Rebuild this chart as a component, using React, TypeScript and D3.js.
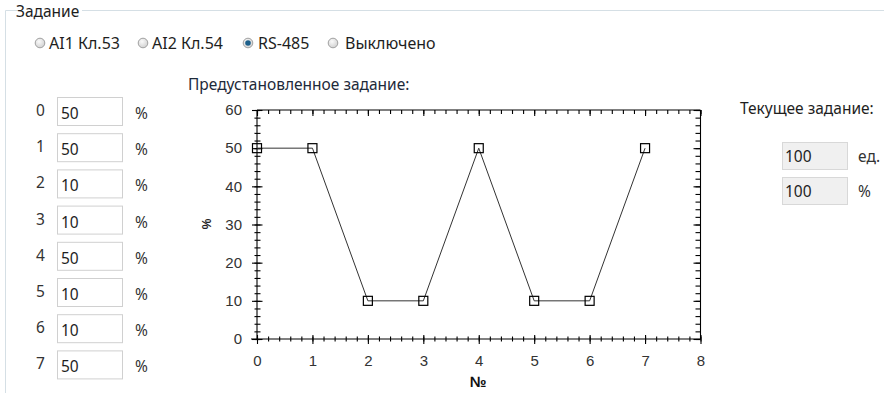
import React, { useEffect, useRef } from "react";
import * as d3 from "d3";

const indices = [0, 1, 2, 3, 4, 5, 6, 7];
const presetValues = [50, 50, 10, 10, 50, 10, 10, 50];
const xTicks = [0, 1, 2, 3, 4, 5, 6, 7, 8];
const yTicks = [0, 10, 20, 30, 40, 50, 60];
const radioLabels = ["AI1 Кл.53", "AI2 Кл.54", "RS-485", "Выключено"];
const radioX = [40, 143, 248, 333];
const radioTextX = [49, 152, 258, 345];
const selectedRadio = 2;
const currentValues = ["100", "100"];
const currentUnits = ["ед.", "%"];

const UI_FONT = "'Noto Sans', 'Open Sans', sans-serif";
const CHART_FONT = "'Liberation Sans', Arial, sans-serif";
const UI_SIZE = 15.5;

export default function App() {
  const ref = useRef<SVGGElement>(null);

  const x = d3.scaleLinear().domain([0, 8]).range([257, 700.5]);
  const y = d3.scaleLinear().domain([0, 60]).range([339, 110]);

  useEffect(() => {
    const g = d3.select(ref.current);
    g.selectAll("*").remove();
    const minorX = d3.range(0, 8.001, 0.2);
    const minorY = d3.range(0, 60.001, 2);

    const bMinor = g.append("g").attr("transform", `translate(0,${y(0)})`)
      .call(d3.axisBottom(x).tickValues(minorX).tickSize(3).tickFormat(() => ""));
    bMinor.selectAll(".tick line").attr("y1", -2.5).attr("y2", 2.5);
    bMinor.select(".domain").remove();
    const bMajor = g.append("g").attr("transform", `translate(0,${y(0)})`)
      .call(d3.axisBottom(x).tickValues(xTicks).tickSize(5).tickPadding(11).tickFormat(d3.format("d")));
    bMajor.selectAll(".tick line").attr("y1", -4).attr("y2", 5);
    bMajor.select(".domain").attr("d", `M${x(0) - 6},0H${x(8)}`);

    const lMinor = g.append("g").attr("transform", `translate(${x(0)},0)`)
      .call(d3.axisLeft(y).tickValues(minorY).tickSize(3).tickFormat(() => ""));
    lMinor.selectAll(".tick line").attr("x1", -2.5).attr("x2", 3.5);
    lMinor.select(".domain").remove();
    const lMajor = g.append("g").attr("transform", `translate(${x(0)},0)`)
      .call(d3.axisLeft(y).tickValues(yTicks).tickSize(5).tickPadding(10).tickFormat(d3.format("d")));
    lMajor.selectAll(".tick line").attr("x1", -5).attr("x2", 5.5);
    lMajor.select(".domain").attr("d", `M0,${y(0)}V${y(60)}`);

    const tMinor = g.append("g").attr("transform", `translate(0,${y(60)})`)
      .call(d3.axisTop(x).tickValues(minorX).tickSize(-4).tickFormat(() => ""));
    tMinor.select(".domain").remove();
    const tMajor = g.append("g").attr("transform", `translate(0,${y(60)})`)
      .call(d3.axisTop(x).tickValues(xTicks).tickSize(-6).tickFormat(() => ""));
    tMajor.select(".domain").attr("d", `M${x(0)},0H${x(8)}`);

    const rMinor = g.append("g").attr("transform", `translate(${x(8)},0)`)
      .call(d3.axisRight(y).tickValues(minorY).tickSize(-5).tickFormat(() => ""));
    rMinor.select(".domain").remove();
    const rMajor = g.append("g").attr("transform", `translate(${x(8)},0)`)
      .call(d3.axisRight(y).tickValues(yTicks).tickSize(-7).tickFormat(() => ""));
    rMajor.select(".domain").attr("d", `M0,${y(0)}V${y(60)}`);

    g.selectAll(".tick text").attr("fill", "#333").attr("font-size", 15).attr("font-family", CHART_FONT);
    g.selectAll(".tick line, .domain").attr("stroke", "#000").attr("stroke-width", 1.1);

    const line = d3.line<number>().x((_, i) => x(indices[i])).y((d) => y(d));
    g.append("path").attr("d", line(presetValues)).attr("fill", "none").attr("stroke", "#333").attr("stroke-width", 1);

    g.selectAll(".marker").data(presetValues).enter().append("rect")
      .attr("x", (_, i) => x(indices[i]) - 4.5).attr("y", (d) => y(d) - 4.5)
      .attr("width", 9).attr("height", 9).attr("fill", "none").attr("stroke", "#000").attr("stroke-width", 1.2);
  }, []);

  return (
    <div style={{ position: "fixed", left: 0, top: 0 }}>
      <svg width={884} height={393} style={{ display: "block", background: "#fff" }}>
        <defs>
          <radialGradient id="radioFill" cx="40%" cy="35%" r="70%">
            <stop offset="0%" stopColor="#fafafa" />
            <stop offset="100%" stopColor="#cfcfcf" />
          </radialGradient>
        </defs>
        <path d="M20,10.5H5.5V393" fill="none" stroke="#d5dfe5" />
        <path d="M82,10.5H884" fill="none" stroke="#d5dfe5" />
        <text x={16} y={17} fontFamily={UI_FONT} fontSize={UI_SIZE} fill="#1e1e1e">Задание</text>

        {radioLabels.map((lab, i) => (
          <g key={lab}>
            <circle cx={radioX[i]} cy={43} r={4.8} fill="url(#radioFill)" stroke="#a0a0a0" />
            {i === selectedRadio && <circle cx={radioX[i]} cy={43} r={2.8} fill="#1d5f8a" />}
            <text x={radioTextX[i]} y={48.5} fontFamily={UI_FONT} fontSize={16} fill="#1e1e1e">{lab}</text>
          </g>
        ))}

        {indices.map((idx, i) => {
          const top = 97 + i * 36.2;
          return (
            <g key={idx}>
              <text x={36} y={top + 19} fontFamily={UI_FONT} fontSize={UI_SIZE} fill="#333">{idx}</text>
              <rect x={57.5} y={top + 0.5} width={65} height={28} fill="#fff" stroke="#d0d0d0" />
              <text x={61} y={top + 22} fontFamily={UI_FONT} fontSize={UI_SIZE} fill="#1e1e1e">{presetValues[i]}</text>
              <text x={135} y={top + 22} fontFamily={UI_FONT} fontSize={UI_SIZE} fill="#333">%</text>
            </g>
          );
        })}

        <text x={188} y={90} fontFamily={UI_FONT} fontSize={UI_SIZE} fill="#1e2a3a">Предустановленное задание:</text>

        <g ref={ref} />
        <text transform="translate(211,224) rotate(-90)" textAnchor="middle" fontFamily={CHART_FONT} fontSize={12} fontWeight="bold" fill="#222">%</text>
        <text x={478} y={387} textAnchor="middle" fontFamily={CHART_FONT} fontSize={15} fontWeight="bold" fill="#111">№</text>

        <text x={740} y={114} fontFamily={UI_FONT} fontSize={UI_SIZE} fill="#1e1e1e">Текущее задание:</text>
        {currentValues.map((v, i) => {
          const top = 142 + i * 35;
          return (
            <g key={i}>
              <rect x={782.5} y={top + 0.5} width={65} height={27} fill="#f0f0f0" stroke="#d8d8d8" />
              <text x={785} y={top + 20} fontFamily={UI_FONT} fontSize={UI_SIZE} fill="#1e1e1e">{v}</text>
              <text x={858} y={top + 20} fontFamily={UI_FONT} fontSize={UI_SIZE} fill="#333">{currentUnits[i]}</text>
            </g>
          );
        })}
      </svg>
    </div>
  );
}
